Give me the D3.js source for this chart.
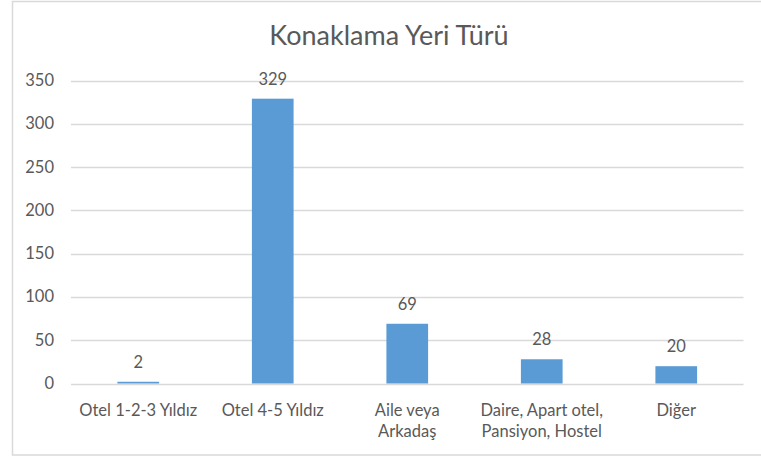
<!DOCTYPE html>
<html><head><meta charset="utf-8">
<script src="https://cdn.jsdelivr.net/npm/d3@7"></script>
<style>body{margin:0;background:#fff}svg{display:block}text{font-family:Lato,"Open Sans",sans-serif;fill:#595959}</style>
</head><body><svg id="c" width="761" height="457"></svg>
<script>
const title = "Konaklama Yeri Türü";
const categories = [["Otel 1-2-3 Yıldız"],["Otel 4-5 Yıldız"],["Aile veya","Arkadaş"],["Daire, Apart otel,","Pansiyon, Hostel"],["Diğer"]];
const values = [2,329,69,28,20];
const yTicks = [0,50,100,150,200,250,300,350];

const svg = d3.select("#c");
svg.append("rect").attr("x",12.5).attr("y",1.5).attr("width",754).attr("height",453.5)
  .attr("fill","#fff").attr("stroke","#d9d9d9").attr("stroke-width",1.5);

const x = d3.scaleBand().domain(d3.range(values.length)).range([71,743.5]).padding(0);
const y = d3.scaleLinear().domain([0,350]).range([383.5,80.5]);
const bw = x.bandwidth()*0.31;

const g = svg.append("g");
g.selectAll(".grid").data(yTicks).join("line")
  .attr("x1",71).attr("x2",743.5).attr("y1",d=>Math.round(y(d))+0.5).attr("y2",d=>Math.round(y(d))+0.5)
  .attr("stroke","#d9d9d9").attr("stroke-width",1.3);

g.selectAll(".yl").data(yTicks).join("text")
  .attr("x",54).attr("y",d=>y(d)+5.5).attr("text-anchor","end").attr("font-size",16.5).text(d=>d);

g.selectAll(".bar").data(values).join("rect")
  .attr("x",(d,i)=>x(i)+x.bandwidth()/2-bw/2).attr("width",bw)
  .attr("y",d=>y(d)).attr("height",d=>y(0)-y(d)).attr("fill","#5b9bd5");

g.selectAll(".vl").data(values).join("text")
  .attr("x",(d,i)=>x(i)+x.bandwidth()/2).attr("y",d=>y(d)-14).attr("text-anchor","middle")
  .attr("font-size",16.5).text(d=>d);

const xl = g.selectAll(".xl").data(categories).join("text")
  .attr("x",(d,i)=>x(i)+x.bandwidth()/2).attr("y",416).attr("text-anchor","middle").attr("font-size",16.5);
xl.each(function(d){
  const t=d3.select(this), cx=t.attr("x");
  d.forEach((line,k)=>t.append("tspan").attr("x",cx).attr("dy",k?21:0).text(line));
});

svg.append("text").attr("x",389).attr("y",45).attr("text-anchor","middle").attr("font-size",27).text(title);
</script></body></html>
